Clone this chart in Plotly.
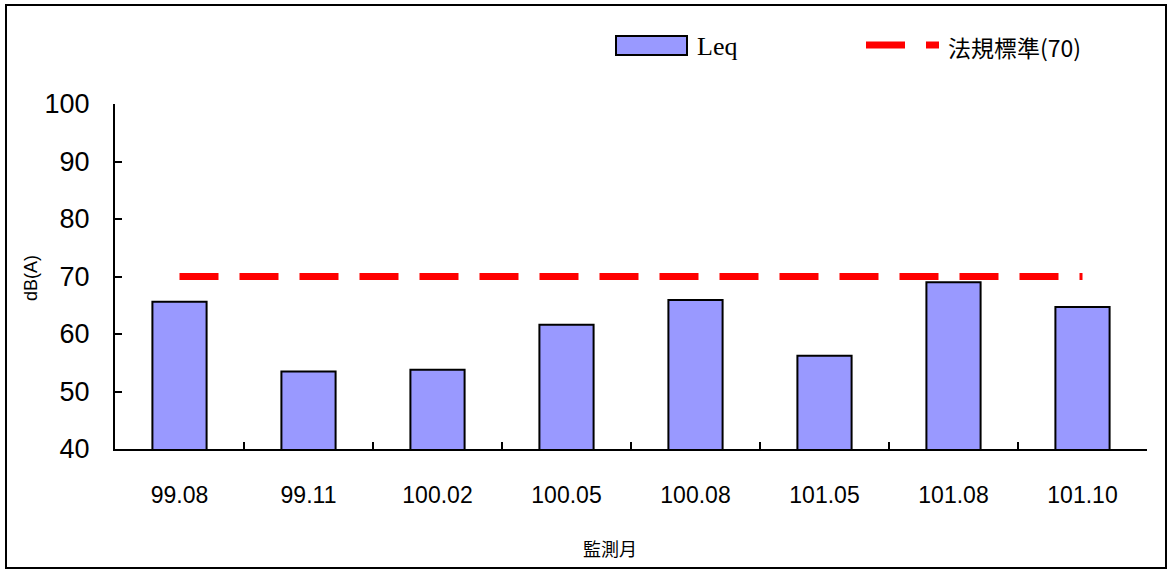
import plotly.graph_objects as go

categories = ["99.08", "99.11", "100.02", "100.05", "100.08", "101.05", "101.08", "101.10"]
leq_values = [65.6, 53.5, 53.8, 61.6, 65.9, 56.2, 69.0, 64.7]
standard_value = 70
standard_values = [standard_value] * len(categories)
y_ticks = [40, 50, 60, 70, 80, 90, 100]

W, H = 1168, 570
ML, MR, MT, MB = 115, 21, 104, 121
PW = W - ML - MR
PH = H - MT - MB

def px(x):
    return (x - ML) / PW

def py(y):
    return (H - MB - y) / PH

fig = go.Figure()
fig.add_trace(go.Bar(
    x=categories, y=leq_values, name="Leq", width=0.42,
    marker=dict(color="#9999FF", line=dict(color="black", width=2)),
    showlegend=False,
))
fig.add_trace(go.Scatter(
    x=categories, y=standard_values, name="法規標準(70)", mode="lines",
    line=dict(color="#FF0000", width=7, dash="39px,21px"),
    showlegend=False,
))

shapes = [
    dict(type="rect", xref="paper", yref="paper",
         x0=px(6), x1=px(1166), y0=py(568), y1=py(5),
         line=dict(color="black", width=2), fillcolor="rgba(0,0,0,0)", layer="below"),
    dict(type="rect", xref="paper", yref="paper",
         x0=px(616), x1=px(687), y0=py(55), y1=py(36),
         line=dict(color="black", width=2), fillcolor="#9999FF"),
    dict(type="line", xref="paper", yref="paper",
         x0=px(866), x1=px(905), y0=py(45), y1=py(45),
         line=dict(color="#FF0000", width=7)),
    dict(type="line", xref="paper", yref="paper",
         x0=px(926), x1=px(939), y0=py(45), y1=py(45),
         line=dict(color="#FF0000", width=7)),
]

annotations = [
    dict(text="Leq", xref="paper", yref="paper", x=px(695), y=py(46),
         xanchor="left", yanchor="middle", showarrow=False,
         font=dict(family="Liberation Serif, Noto Sans CJK TC", size=26, color="black")),
    dict(text="法規標準(70)", xref="paper", yref="paper", x=px(946), y=py(47),
         xanchor="left", yanchor="middle", showarrow=False,
         font=dict(family="Noto Sans CJK TC", size=23, color="black")),
    dict(text="監測月", xref="paper", yref="paper", x=px(610), y=py(548),
         xanchor="center", yanchor="middle", showarrow=False,
         font=dict(family="Noto Sans CJK TC", size=18, color="black")),
    dict(text="dB(A)", xref="paper", yref="paper", x=px(31), y=py(278),
         xanchor="center", yanchor="middle", showarrow=False, textangle=-90,
         font=dict(family="Liberation Sans", size=18, color="black")),
]

fig.update_layout(
    width=W, height=H,
    margin=dict(l=ML, r=MR, t=MT, b=MB),
    paper_bgcolor="white", plot_bgcolor="white",
    showlegend=False,
    shapes=shapes,
    annotations=annotations,
    xaxis=dict(
        type="category", categoryorder="array", categoryarray=categories,
        showline=True, linecolor="black", linewidth=2,
        ticks="inside", tickson="boundaries", ticklen=7, tickwidth=2, tickcolor="black",
        showgrid=False, zeroline=False,
        tickfont=dict(family="Liberation Sans", size=23, color="black"),
        ticklabelstandoff=24,
    ),
    yaxis=dict(
        range=[40, 100], tickvals=y_ticks,
        showline=True, linecolor="black", linewidth=2,
        ticks="inside", ticklen=7, tickwidth=2, tickcolor="black",
        showgrid=False, zeroline=False,
        tickfont=dict(family="Liberation Sans", size=27, color="black"),
        ticklabelstandoff=18,
    ),
)

fig.write_html(
    "out.html",
    config={"displayModeBar": False},
    post_script="document.body.style.margin='0';document.body.style.overflow='hidden';",
)
